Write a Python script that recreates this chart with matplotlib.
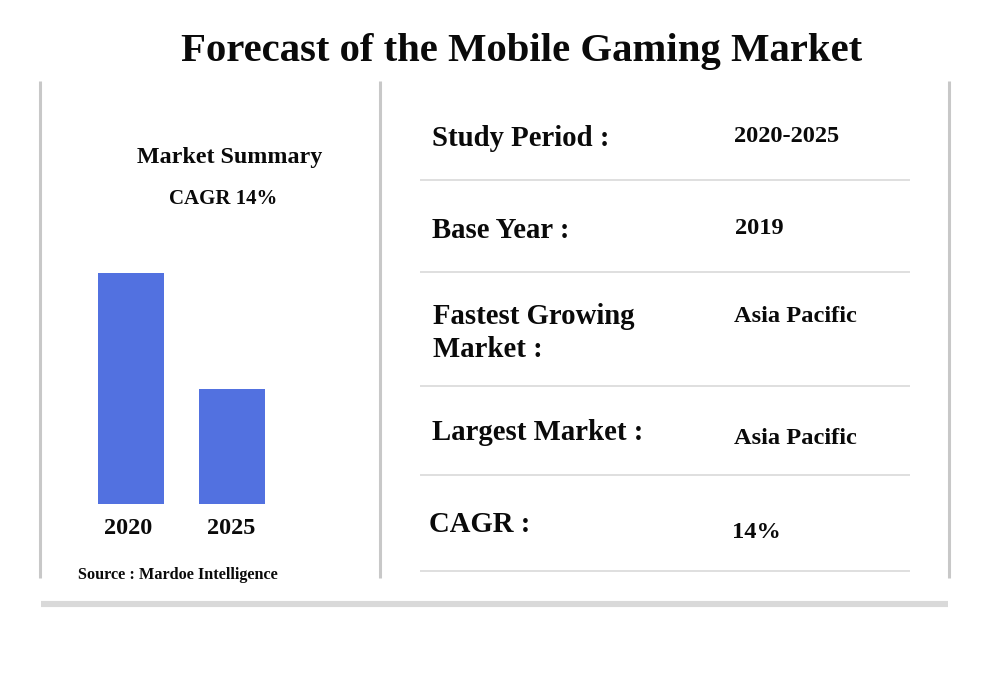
import matplotlib
matplotlib.use("Agg")
import matplotlib.pyplot as plt

TITLE = "Forecast of the Mobile Gaming Market"
years = ["2020", "2025"]
values = [231, 115]  # bar heights, arbitrary units

row_labels = ["Study Period :", "Base Year :", "Fastest Growing\nMarket :", "Largest Market :", "CAGR :"]
row_values = ["2020-2025", "2019", "Asia Pacific", "Asia Pacific", "14%"]
label_pos = [(432, 138), (432, 230), (433, 333), (432, 433), (429, 525)]
value_pos = [(734, 136), (735, 229), (734, 316), (734, 438), (732, 532)]
row_lines = [180, 272, 386, 475, 571]

serif = "Liberation Serif"
INK = "#0a0a0a"
GREY = "#c8c8c8"
RULE = "#dcdcdc"
BAR = "#5271e0"

fig = plt.figure(figsize=(10, 6.75), dpi=100, facecolor="white")

# pixel-space canvas for the table and frame
bg = fig.add_axes([0, 0, 1, 1])
bg.set_xlim(0, 1000)
bg.set_ylim(675, 0)
bg.axis("off")

bg.text(522, 52, TITLE, family=serif, fontsize=29.3, fontweight="bold", color=INK, ha="center", va="center")

# frame
for x in [40, 380, 949]:
    bg.plot([x, x], [81, 578], color=GREY, lw=2.2, solid_capstyle="butt")
bg.plot([41, 948], [604, 604], color="#d9d9d9", lw=4.4, solid_capstyle="butt")

# table
for y in row_lines:
    bg.plot([420, 910], [y, y], color=RULE, lw=1.3, solid_capstyle="butt")
for txt, (x, y) in zip(row_labels, label_pos):
    bg.text(x, y, txt, family=serif, fontsize=20.7, fontweight="bold", color=INK, ha="left", va="center", linespacing=1.25)
for txt, (x, y) in zip(row_values, value_pos):
    bg.text(x, y, txt, family=serif, fontsize=17.6, fontweight="bold", color=INK, ha="left", va="center")

# left panel
bg.text(229.5, 157, "Market Summary", family=serif, fontsize=17.3, fontweight="bold", color=INK, ha="center", va="center")
bg.text(223.5, 199, "CAGR 14%", family=serif, fontsize=15, fontweight="bold", color=INK, ha="center", va="center")
bg.text(177.5, 575, "Source : Mardoe Intelligence", family=serif, fontsize=11.7, fontweight="bold", color=INK, ha="center", va="center")

# bars: axes spans x 80-282 px, baseline at y=504 px
ax = fig.add_axes([80 / 1000, (675 - 504) / 675, 202 / 1000, 231 / 675])
ax.bar([0, 1], values, width=0.653, color=BAR)
ax.set_xlim(-0.505, 1.495)
ax.set_ylim(0, 231)
ax.patch.set_alpha(0)
for s in ax.spines.values():
    s.set_visible(False)
ax.set_yticks([])
ax.set_xticks([-0.03, 0.99])
ax.set_xticklabels(years, family=serif, fontsize=17.5, fontweight="bold", color=INK)
ax.tick_params(axis="x", length=0, pad=10)

fig.savefig("out.png", dpi=100, facecolor="white")
plt.close(fig)
